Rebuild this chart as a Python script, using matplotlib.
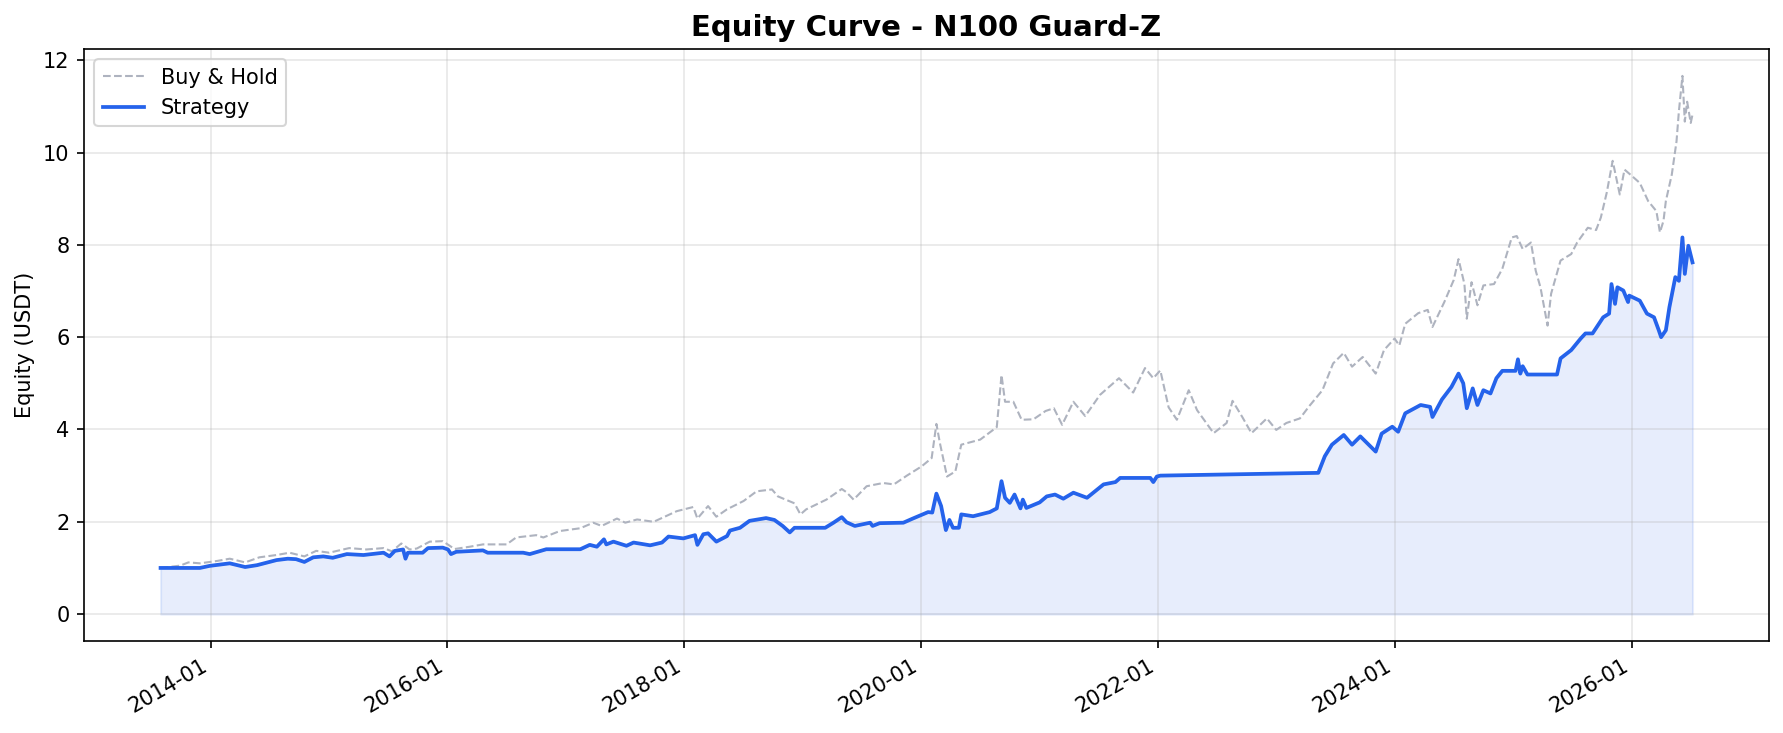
import pandas as pd
import matplotlib
matplotlib.use("Agg")
import matplotlib.pyplot as plt
import matplotlib.dates as mdates

# Strategy equity (decimal year, value)
strat_t = [2013.575, 2013.907, 2013.99, 2014.16, 2014.29, 2014.39, 2014.555, 2014.65, 2014.72, 2014.79,
           2014.865, 2014.95, 2015.03, 2015.15, 2015.29, 2015.46, 2015.51, 2015.555, 2015.625, 2015.645,
           2015.665, 2015.79, 2015.835, 2015.96, 2016.005, 2016.03, 2016.075, 2016.30, 2016.34, 2016.64,
           2016.695, 2016.835, 2017.12, 2017.20, 2017.26, 2017.32, 2017.34, 2017.40, 2017.51, 2017.57,
           2017.71, 2017.81, 2017.865, 2017.99, 2018.09, 2018.11, 2018.16, 2018.20, 2018.27, 2018.36,
           2018.385, 2018.47, 2018.55, 2018.69, 2018.76, 2018.83, 2018.89, 2018.93, 2019.19, 2019.26,
           2019.33, 2019.37, 2019.44, 2019.57, 2019.59, 2019.65, 2019.85, 2019.93, 2020.06, 2020.095,
           2020.13, 2020.17, 2020.21, 2020.24, 2020.27, 2020.32, 2020.34, 2020.44, 2020.58, 2020.64,
           2020.68, 2020.71, 2020.75, 2020.79, 2020.84, 2020.86, 2020.89, 2021.00, 2021.06, 2021.13,
           2021.20, 2021.285, 2021.40, 2021.54, 2021.64, 2021.68, 2021.935, 2021.96, 2021.99, 2022.02,
           2023.355, 2023.41, 2023.47, 2023.57, 2023.64, 2023.71, 2023.84, 2023.89, 2023.98, 2024.03,
           2024.09, 2024.22, 2024.30, 2024.32, 2024.40, 2024.48, 2024.54, 2024.58, 2024.61, 2024.66,
           2024.70, 2024.75, 2024.81, 2024.86, 2024.91, 2025.02, 2025.04, 2025.06, 2025.08, 2025.12,
           2025.37, 2025.40, 2025.49, 2025.57, 2025.61, 2025.67, 2025.76, 2025.81, 2025.83, 2025.86,
           2025.88, 2025.93, 2025.97, 2025.98, 2026.07, 2026.13, 2026.19, 2026.23, 2026.25, 2026.29,
           2026.32, 2026.37, 2026.40, 2026.43, 2026.45, 2026.48, 2026.515]
strat_v = [1.00, 1.00, 1.045, 1.10, 1.02, 1.06, 1.17, 1.20, 1.19, 1.13,
           1.23, 1.25, 1.22, 1.30, 1.28, 1.33, 1.25, 1.37, 1.40, 1.20,
           1.33, 1.33, 1.43, 1.44, 1.40, 1.30, 1.35, 1.38, 1.33, 1.33,
           1.30, 1.405, 1.405, 1.50, 1.46, 1.62, 1.51, 1.57, 1.48, 1.55,
           1.49, 1.55, 1.68, 1.64, 1.71, 1.50, 1.73, 1.75, 1.57, 1.69,
           1.81, 1.87, 2.02, 2.08, 2.04, 1.91, 1.77, 1.87, 1.87, 1.98,
           2.10, 1.99, 1.91, 1.98, 1.91, 1.97, 1.98, 2.07, 2.21, 2.20,
           2.61, 2.34, 1.82, 2.04, 1.87, 1.87, 2.16, 2.12, 2.21, 2.29,
           2.88, 2.52, 2.41, 2.59, 2.29, 2.48, 2.30, 2.42, 2.55, 2.59,
           2.50, 2.63, 2.52, 2.81, 2.86, 2.95, 2.95, 2.86, 2.98, 3.00,
           3.06, 3.42, 3.67, 3.88, 3.67, 3.85, 3.52, 3.91, 4.06, 3.95,
           4.35, 4.53, 4.49, 4.27, 4.65, 4.92, 5.21, 5.00, 4.46, 4.89,
           4.53, 4.85, 4.78, 5.11, 5.27, 5.27, 5.52, 5.21, 5.37, 5.19,
           5.19, 5.54, 5.72, 5.97, 6.08, 6.08, 6.43, 6.51, 7.15, 6.72,
           7.08, 7.01, 6.76, 6.90, 6.79, 6.51, 6.43, 6.15, 6.00, 6.15,
           6.65, 7.30, 7.22, 8.16, 7.37, 7.98, 7.62]

# Buy & Hold equity
bh_t = [2013.575, 2013.74, 2013.81, 2013.907, 2014.05, 2014.16, 2014.29, 2014.41, 2014.555, 2014.665,
        2014.79, 2014.89, 2015.00, 2015.17, 2015.315, 2015.46, 2015.53, 2015.61, 2015.68, 2015.74,
        2015.85, 2015.96, 2016.03, 2016.06, 2016.19, 2016.30, 2016.50, 2016.58, 2016.75, 2016.81,
        2016.95, 2017.12, 2017.23, 2017.30, 2017.43, 2017.50, 2017.60, 2017.74, 2017.935, 2018.075,
        2018.11, 2018.20, 2018.27, 2018.36, 2018.50, 2018.61, 2018.74, 2018.79, 2018.93, 2018.98,
        2019.03, 2019.20, 2019.33, 2019.37, 2019.43, 2019.54, 2019.68, 2019.77, 2019.88, 2020.005,
        2020.09, 2020.13, 2020.16, 2020.22, 2020.29, 2020.34, 2020.50, 2020.64, 2020.68, 2020.71,
        2020.78, 2020.85, 2020.95, 2021.05, 2021.12, 2021.19, 2021.285, 2021.385, 2021.51, 2021.67,
        2021.79, 2021.89, 2021.96, 2022.02, 2022.09, 2022.16, 2022.26, 2022.33, 2022.47, 2022.58,
        2022.63, 2022.71, 2022.79, 2022.92, 2023.00, 2023.085, 2023.20, 2023.28, 2023.39, 2023.48,
        2023.57, 2023.64, 2023.73, 2023.84, 2023.91, 2024.00, 2024.04, 2024.09, 2024.20, 2024.28,
        2024.32, 2024.42, 2024.50, 2024.54, 2024.59, 2024.61, 2024.65, 2024.70, 2024.75, 2024.84,
        2024.91, 2024.99, 2025.03, 2025.08, 2025.15, 2025.19, 2025.23, 2025.29, 2025.32, 2025.40,
        2025.49, 2025.54, 2025.63, 2025.70, 2025.74, 2025.79, 2025.84, 2025.90, 2025.94, 2025.99,
        2026.07, 2026.14, 2026.21, 2026.24, 2026.27, 2026.29, 2026.34, 2026.38, 2026.40, 2026.43,
        2026.45, 2026.47, 2026.50, 2026.515]
bh_v = [1.00, 1.05, 1.12, 1.10, 1.15, 1.20, 1.12, 1.23, 1.28, 1.33,
        1.25, 1.37, 1.33, 1.43, 1.40, 1.43, 1.36, 1.53, 1.40, 1.42,
        1.57, 1.58, 1.46, 1.41, 1.46, 1.51, 1.51, 1.66, 1.71, 1.66,
        1.80, 1.86, 1.98, 1.91, 2.07, 1.98, 2.05, 2.00, 2.23, 2.32,
        2.07, 2.34, 2.11, 2.27, 2.45, 2.66, 2.70, 2.55, 2.40, 2.16,
        2.27, 2.48, 2.71, 2.64, 2.48, 2.77, 2.84, 2.81, 3.00, 3.20,
        3.38, 4.12, 3.70, 2.98, 3.09, 3.67, 3.78, 4.05, 5.18, 4.60,
        4.60, 4.21, 4.22, 4.40, 4.46, 4.10, 4.60, 4.29, 4.75, 5.11,
        4.80, 5.33, 5.11, 5.28, 4.48, 4.21, 4.85, 4.42, 3.92, 4.14,
        4.62, 4.28, 3.92, 4.24, 3.99, 4.14, 4.24, 4.51, 4.85, 5.43,
        5.66, 5.36, 5.57, 5.21, 5.72, 5.97, 5.82, 6.29, 6.52, 6.59,
        6.22, 6.76, 7.24, 7.69, 7.15, 6.40, 7.19, 6.69, 7.12, 7.15,
        7.48, 8.16, 8.19, 7.91, 8.05, 7.44, 7.08, 6.25, 6.94, 7.66,
        7.80, 8.05, 8.37, 8.32, 8.59, 9.13, 9.82, 9.09, 9.63, 9.52,
        9.34, 8.95, 8.73, 8.27, 8.52, 8.95, 9.52, 10.24, 10.89, 11.66,
        10.67, 11.10, 10.64, 10.82]


def to_dates(years):
    out = []
    for y in years:
        yr = int(y)
        out.append(pd.Timestamp(yr, 1, 1) + pd.Timedelta(days=(y - yr) * 365.25))
    return out


strat_d = to_dates(strat_t)
bh_d = to_dates(bh_t)

blue = '#2563eb'

fig = plt.figure(figsize=(1783 / 150, 733 / 150), dpi=150)
ax = fig.add_axes([0.0471, 0.1255, 0.9451, 0.8077])

ax.plot(bh_d, bh_v, color='#aeb3bf', linestyle='--', linewidth=1.0, label='Buy & Hold')
ax.plot(strat_d, strat_v, color=blue, linewidth=1.8, label='Strategy')
ax.fill_between(strat_d, 0, strat_v, color=blue, alpha=0.11)

ax.set_title('Equity Curve - N100 Guard-Z', fontsize=14, fontweight='bold')
ax.set_ylabel('Equity (USDT)')
ax.grid(True, alpha=0.3)
ax.legend(loc='upper left')

ax.xaxis.set_major_locator(mdates.YearLocator(2))
ax.xaxis.set_major_formatter(mdates.DateFormatter('%Y-%m'))
for lbl in ax.get_xticklabels():
    lbl.set_rotation(30)
    lbl.set_ha('right')

fig.savefig('out.png', dpi=150)
